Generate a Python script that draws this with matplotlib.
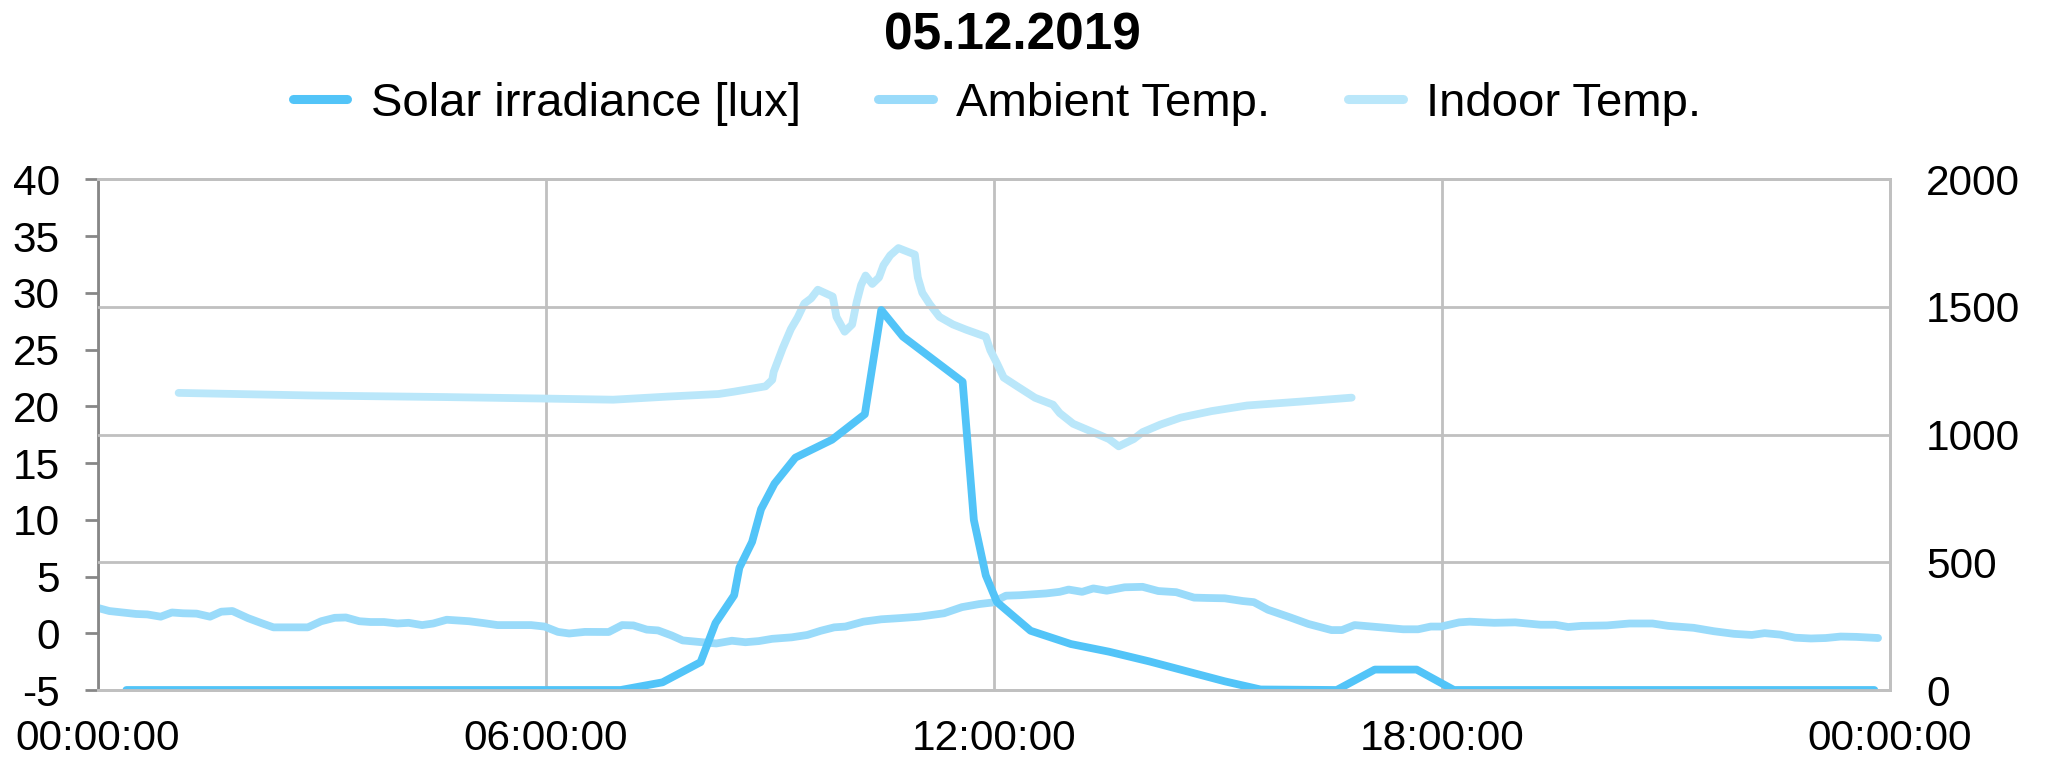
import matplotlib
matplotlib.use("Agg")
import matplotlib.pyplot as plt

plt.rcParams['font.family'] = ['Liberation Sans', 'DejaVu Sans']
plt.rcParams['axes.unicode_minus'] = False

# time of day in hours
solar_t = [0.38, 7.0, 7.56, 8.07, 8.27, 8.52, 8.59, 8.76, 8.88, 9.06, 9.34, 9.83,
           10.27, 10.49, 10.78, 11.58, 11.73, 11.89, 12.04, 12.49, 13.03, 13.54,
           14.08, 14.56, 15.09, 15.57, 16.59, 17.10, 17.66, 18.16, 23.79]
solar_lux = [0, 0, 30, 109, 262, 371, 479, 580, 708, 808, 910, 980,
             1080, 1488, 1384, 1207, 666, 449, 344, 232, 180, 150,
             112, 75, 34, 2, 0, 80, 80, 0, 0]

ambient_t = [0.0, 0.15, 0.33, 0.51, 0.66, 0.84, 0.99, 1.14, 1.32, 1.50, 1.65, 1.80,
             2.01, 2.19, 2.35, 2.57, 2.81, 2.99, 3.17, 3.32, 3.50, 3.65, 3.83, 4.01,
             4.16, 4.34, 4.49, 4.67, 4.97, 5.17, 5.35, 5.56, 5.80, 5.98, 6.16, 6.31,
             6.52, 6.84, 7.02, 7.17, 7.35, 7.50, 7.68, 7.83, 8.04, 8.28, 8.49, 8.67,
             8.85, 9.03, 9.29, 9.50, 9.68, 9.86, 10.01, 10.25, 10.49, 10.73, 11.00,
             11.33, 11.57, 11.80, 11.98, 12.16, 12.34, 12.70, 12.88, 13.00, 13.18,
             13.33, 13.51, 13.75, 13.99, 14.20, 14.44, 14.68, 14.85, 15.09, 15.33,
             15.48, 15.67, 15.97, 16.21, 16.52, 16.66, 16.83, 17.13, 17.48, 17.68,
             17.85, 17.99, 18.23, 18.37, 18.70, 18.98, 19.32, 19.52, 19.69, 19.87,
             20.21, 20.51, 20.82, 21.03, 21.37, 21.64, 21.91, 22.15, 22.32, 22.53,
             22.73, 22.94, 23.14, 23.34, 23.55, 23.84]
ambient_temp = [2.23, 1.96, 1.83, 1.70, 1.66, 1.46, 1.83, 1.76, 1.73, 1.46, 1.90, 1.96,
                1.33, 0.89, 0.52, 0.52, 0.52, 1.06, 1.36, 1.39, 1.06, 0.99, 0.99, 0.86,
                0.92, 0.72, 0.86, 1.19, 1.06, 0.89, 0.72, 0.72, 0.72, 0.59, 0.12, -0.02,
                0.12, 0.11, 0.72, 0.69, 0.32, 0.25, -0.19, -0.63, -0.76, -0.90, -0.66, -0.79,
                -0.69, -0.49, -0.36, -0.15, 0.22, 0.52, 0.59, 1.02, 1.23, 1.33, 1.46,
                1.76, 2.30, 2.57, 2.71, 3.31, 3.35, 3.51, 3.65, 3.85, 3.65,
                3.95, 3.75, 4.05, 4.09, 3.72, 3.62, 3.14, 3.11, 3.08, 2.84,
                2.74, 2.07, 1.39, 0.82, 0.28, 0.28, 0.72, 0.55, 0.35, 0.35,
                0.59, 0.59, 0.96, 1.02, 0.92, 0.96, 0.75, 0.75, 0.55, 0.65,
                0.69, 0.86, 0.86, 0.65, 0.48, 0.18, -0.05, -0.15, 0.01, -0.12,
                -0.39, -0.46, -0.42, -0.29, -0.32, -0.42]

indoor_t = [1.08, 2.87, 4.67, 5.98, 6.90, 7.62, 8.31, 8.52, 8.94, 9.03, 9.05, 9.17,
            9.28, 9.37, 9.46, 9.55, 9.64, 9.84, 9.89, 10.00, 10.10, 10.16, 10.22,
            10.28, 10.37, 10.46, 10.52, 10.61, 10.72, 10.94, 10.98, 11.04, 11.14,
            11.27, 11.45, 11.63, 11.89, 11.95, 12.04, 12.13, 12.31, 12.55, 12.79,
            12.88, 13.06, 13.30, 13.54, 13.67, 13.87, 13.99, 14.23, 14.50, 14.91,
            15.39, 16.10, 16.79]
indoor_temp = [21.18, 20.95, 20.81, 20.68, 20.58, 20.85, 21.08, 21.29, 21.76, 22.33,
               23.04, 25.12, 26.81, 27.82, 29.06, 29.50, 30.27, 29.67, 27.88, 26.57,
               27.21, 29.16, 30.68, 31.52, 30.78, 31.35, 32.43, 33.30, 33.94, 33.37,
               31.35, 30.00, 28.99, 27.88, 27.21, 26.74, 26.13, 24.95, 23.78, 22.53,
               21.76, 20.75, 20.14, 19.40, 18.46, 17.79, 17.11, 16.47, 17.11, 17.72,
               18.39, 19.00, 19.57, 20.07, 20.41, 20.76]

x_ticks = [0, 6, 12, 18, 24]
x_labels = ['00:00:00', '06:00:00', '12:00:00', '18:00:00', '00:00:00']

grid_c = '#C0C0C0'
axis_c = '#878787'
fs = 30.5
lw = 5.6

fig = plt.figure(figsize=(20.49, 7.61), dpi=100)
ax = fig.add_axes([98 / 2049, 1 - 690 / 761, 1792 / 2049, 510.7 / 761])
ax2 = ax.twinx()

ax.plot(ambient_t, ambient_temp, color='#9ADBFA', lw=lw, solid_capstyle='round',
        solid_joinstyle='round', label='Ambient Temp.')
ax.plot(indoor_t, indoor_temp, color='#BAE7FA', lw=lw, solid_capstyle='round',
        solid_joinstyle='round', label='Indoor Temp.')
ax2.plot(solar_t, solar_lux, color='#52C4F8', lw=lw, solid_capstyle='round',
         solid_joinstyle='round', label='Solar irradiance [lux]')

ax.set_xlim(0, 24)
ax.set_ylim(-5, 40)
ax.set_yticks(range(-5, 41, 5))
ax.set_xticks(x_ticks)
ax.set_xticklabels(x_labels)
ax2.set_ylim(0, 2000)
ax2.set_yticks(range(0, 2001, 500))

ax.grid(axis='x', color=grid_c, lw=2)
ax2.grid(axis='y', color=grid_c, lw=2)
ax.set_axisbelow(True)
ax2.set_axisbelow(True)

for a in (ax, ax2):
    for s in ('top', 'bottom', 'right'):
        a.spines[s].set_color(grid_c)
        a.spines[s].set_linewidth(2)
    a.spines['left'].set_visible(False)
ax.spines['left'].set_visible(True)
ax.spines['left'].set_color(axis_c)
ax.spines['left'].set_linewidth(2)

ax.tick_params(axis='y', direction='out', length=9.5, width=2, color=axis_c,
               pad=18, labelsize=fs)
ax.tick_params(axis='x', length=0, pad=21, labelsize=fs)
ax2.tick_params(axis='y', length=0, pad=26, labelsize=fs)

h1, l1 = ax2.get_legend_handles_labels()
h2, l2 = ax.get_legend_handles_labels()
leg = fig.legend(h1 + h2, l1 + l2, loc='center', ncol=3, frameon=False,
                 bbox_to_anchor=(997 / 2049, 1 - 104 / 761), fontsize=34,
                 handlelength=1.15, handletextpad=0.5, columnspacing=1.65)
for ln in leg.get_lines():
    ln.set_linewidth(6.5)

fig.text(1012 / 2049, 1 - 49 / 761, '05.12.2019', ha='center', va='baseline',
         fontsize=37, fontweight='bold')

plt.savefig('out.png', dpi=100)
plt.close()
